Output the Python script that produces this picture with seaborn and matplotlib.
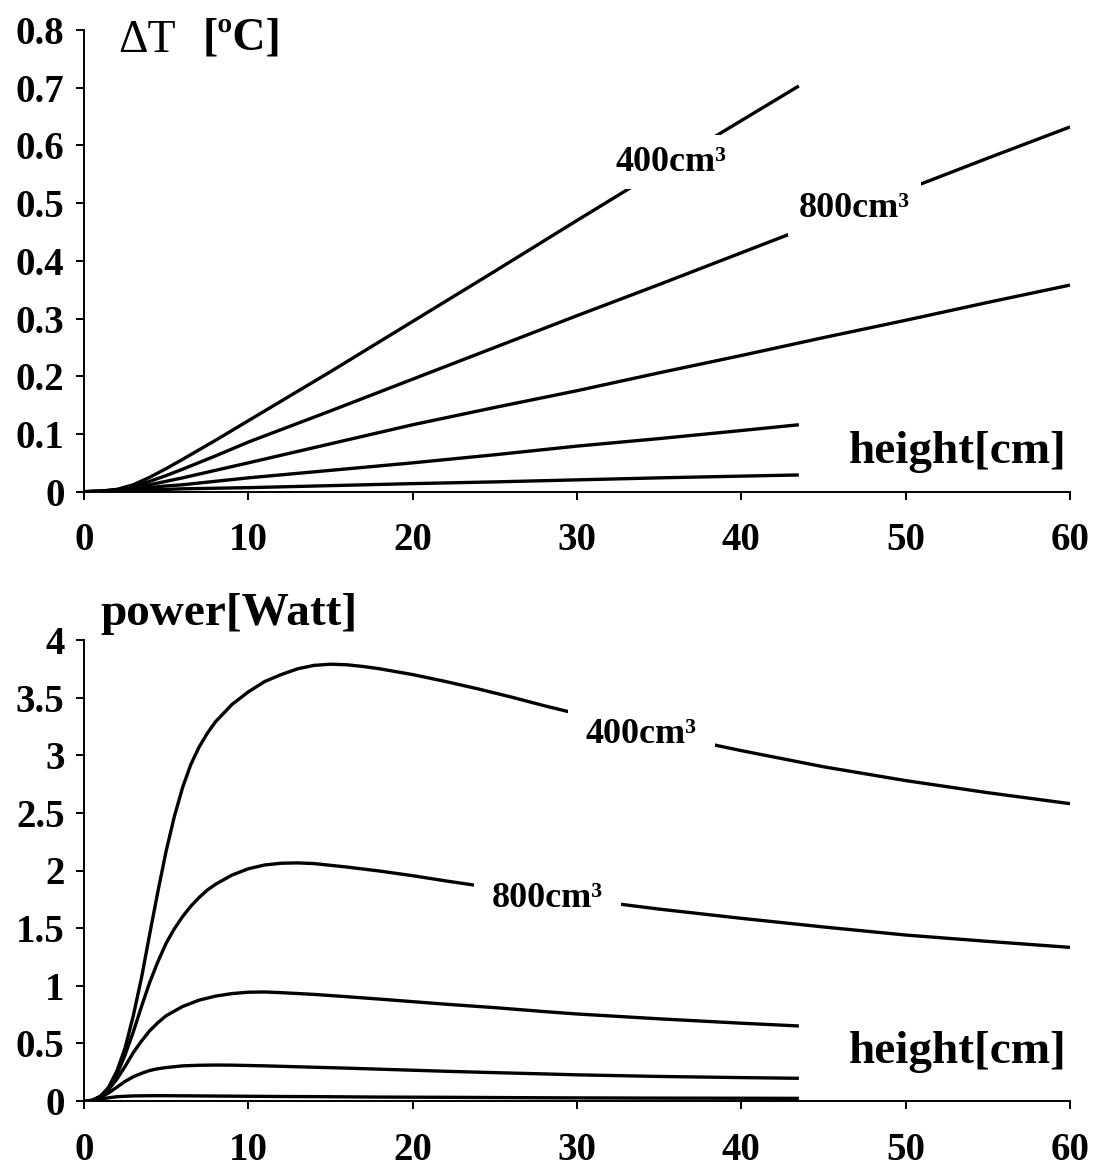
import matplotlib
matplotlib.use("Agg")
import matplotlib.pyplot as plt
import seaborn as sns

# ---- data ----
# top panel: temperature rise vs height (five volumes)
dt_x_short = [0, 1, 2, 3, 4, 5, 6, 8, 10, 15, 20, 25, 30, 35, 40, 43.5]
dt_x_long = [0, 1, 2, 3, 4, 5, 6, 8, 10, 15, 20, 25, 30, 35, 40, 45, 50, 55, 60]
dt_400 = [0, 0.001, 0.004, 0.012, 0.025, 0.040, 0.056, 0.089, 0.123, 0.208,
          0.295, 0.382, 0.470, 0.557, 0.643, 0.703]
dt_800 = [0, 0.001, 0.003, 0.009, 0.018, 0.028, 0.039, 0.062, 0.086, 0.140,
          0.195, 0.250, 0.305, 0.359, 0.414, 0.469, 0.523, 0.578, 0.632]
dt_c = [0, 0.001, 0.003, 0.007, 0.012, 0.018, 0.024, 0.037, 0.050, 0.083,
        0.116, 0.146, 0.175, 0.206, 0.236, 0.267, 0.297, 0.328, 0.358]
dt_d = [0, 0.0005, 0.002, 0.004, 0.007, 0.010, 0.012, 0.018, 0.024, 0.037,
        0.050, 0.064, 0.079, 0.092, 0.106, 0.116]
dt_e = [0, 0.0002, 0.001, 0.002, 0.003, 0.004, 0.005, 0.006, 0.007, 0.0105,
        0.014, 0.017, 0.0205, 0.024, 0.027, 0.029]

# bottom panel: power vs height
p_x_400 = [0, 0.5, 1, 1.5, 2, 2.5, 3, 3.5, 4, 4.5, 5, 5.5, 6, 6.5, 7, 7.5, 8,
           9, 10, 11, 12, 13, 14, 15, 16, 17, 18, 20, 22, 24, 26, 28, 30, 32,
           35, 40, 45, 50, 55, 60]
p_400 = [0, 0.005, 0.04, 0.12, 0.26, 0.46, 0.74, 1.07, 1.45, 1.82, 2.17, 2.47,
         2.72, 2.92, 3.07, 3.19, 3.29, 3.44, 3.55, 3.64, 3.70, 3.75, 3.78, 3.79,
         3.785, 3.77, 3.75, 3.70, 3.64, 3.575, 3.505, 3.43, 3.36, 3.29, 3.19,
         3.04, 2.90, 2.78, 2.675, 2.58]
p_x_800 = [0, 0.5, 1, 1.5, 2, 2.5, 3, 3.5, 4, 4.5, 5, 5.5, 6, 6.5, 7, 7.5, 8,
           9, 10, 11, 12, 13, 14, 16, 18, 20, 22, 24, 26, 28, 30, 35, 40, 45,
           50, 55, 60]
p_800 = [0, 0.005, 0.04, 0.11, 0.23, 0.40, 0.60, 0.82, 1.03, 1.21, 1.37, 1.495,
         1.60, 1.69, 1.765, 1.83, 1.88, 1.96, 2.015, 2.048, 2.063, 2.066, 2.06,
         2.03, 1.995, 1.955, 1.91, 1.868, 1.83, 1.79, 1.755, 1.665, 1.585, 1.51,
         1.44, 1.385, 1.333]
p_x_short = [0, 0.5, 1, 1.5, 2, 2.5, 3, 3.5, 4, 4.5, 5, 6, 7, 8, 9, 10, 11, 12,
             14, 16, 18, 20, 22, 25, 28, 30, 35, 40, 43.5]
p_c = [0, 0.005, 0.04, 0.10, 0.19, 0.30, 0.42, 0.52, 0.61, 0.68, 0.74, 0.82,
       0.875, 0.91, 0.932, 0.944, 0.946, 0.94, 0.925, 0.905, 0.884, 0.862, 0.84,
       0.81, 0.776, 0.755, 0.713, 0.675, 0.651]
p_d = [0, 0.004, 0.03, 0.07, 0.12, 0.17, 0.21, 0.24, 0.265, 0.28, 0.29, 0.305,
       0.31, 0.312, 0.311, 0.308, 0.305, 0.301, 0.293, 0.285, 0.276, 0.267,
       0.258, 0.246, 0.235, 0.227, 0.213, 0.203, 0.197]
p_e = [0, 0.004, 0.015, 0.028, 0.037, 0.041, 0.044, 0.045, 0.046, 0.046, 0.046,
       0.045, 0.044, 0.043, 0.042, 0.041, 0.040, 0.039, 0.038, 0.036, 0.034,
       0.033, 0.032, 0.030, 0.028, 0.027, 0.025, 0.024, 0.023]

x_ticks = [0, 10, 20, 30, 40, 50, 60]
dt_ticks = [0, 0.1, 0.2, 0.3, 0.4, 0.5, 0.6, 0.7, 0.8]
p_ticks = [0, 0.5, 1, 1.5, 2, 2.5, 3, 3.5, 4]

sns.set_style("ticks")
plt.rcParams["font.family"] = ["Liberation Serif", "DejaVu Serif"]
plt.rcParams["font.weight"] = "bold"
plt.rcParams["text.color"] = "black"
plt.rcParams["xtick.color"] = "black"
plt.rcParams["ytick.color"] = "black"

W, H = 1097, 1169
fig = plt.figure(figsize=(W / 100, H / 100), dpi=100)


def px_axes(left, top, right, bottom):
    return fig.add_axes([left / W, 1 - bottom / H, (right - left) / W, (bottom - top) / H])


def style_axes(ax, yticks, ylim, ylabels):
    ax.set_xlim(0, 60)
    ax.set_ylim(*ylim)
    ax.set_xticks(x_ticks)
    ax.set_xticklabels([str(t) for t in x_ticks])
    ax.set_yticks(yticks)
    ax.set_yticklabels(ylabels)
    sns.despine(ax=ax)
    for s in ["left", "bottom"]:
        ax.spines[s].set_linewidth(1.4)
        ax.spines[s].set_color("black")
    ax.tick_params(axis="both", direction="out", length=6, width=1.4,
                   color="black", labelsize=28, labelcolor="black")
    ax.tick_params(axis="x", pad=16)
    ax.tick_params(axis="y", pad=8)
    for lab in ax.get_xticklabels() + ax.get_yticklabels():
        lab.set_fontweight("bold")
    ax.set_xlabel("")
    ax.set_ylabel("")
    ax.patch.set_alpha(0)


def curve(ax, xs, ys):
    sns.lineplot(x=xs, y=ys, ax=ax, color="black", linewidth=2.4, sort=True,
                 zorder=2, solid_joinstyle="round", solid_capstyle="butt")


def label_box(pad):
    return dict(boxstyle=f"square,pad={pad}", facecolor="white", edgecolor="none")


# ---- top panel ----
ax1 = px_axes(84, 30, 1070, 491.7)
curve(ax1, dt_x_short, dt_400)
curve(ax1, dt_x_long, dt_800)
curve(ax1, dt_x_long, dt_c)
curve(ax1, dt_x_short, dt_d)
curve(ax1, dt_x_short, dt_e)
style_axes(ax1, dt_ticks, (0, 0.8),
           ["0"] + [f"{t:.1f}" for t in dt_ticks[1:]])
ax1.text(35.7, 0.571, "400cm³", fontsize=26, fontweight="bold",
         ha="center", va="center", bbox=label_box(0.3), zorder=3)
ax1.text(46.9, 0.491, "800cm³", fontsize=26, fontweight="bold",
         ha="center", va="center", bbox=label_box(0.3), zorder=3)

# ---- bottom panel ----
ax2 = px_axes(84, 640, 1070, 1101)
curve(ax2, p_x_400, p_400)
curve(ax2, p_x_800, p_800)
curve(ax2, p_x_short, p_c)
curve(ax2, p_x_short, p_d)
curve(ax2, p_x_short, p_e)
style_axes(ax2, p_ticks, (0, 4), [f"{t:g}" for t in p_ticks])
ax2.text(33.9, 3.18, "400cm³", fontsize=26, fontweight="bold",
         ha="center", va="center", bbox=label_box(0.5), zorder=3)
ax2.text(28.2, 1.76, "800cm³", fontsize=26, fontweight="bold",
         ha="center", va="center", bbox=label_box(0.5), zorder=3)

# ---- axis titles placed like the original ----
fig.text(118 / W, 1 - 52 / H, "ΔT", fontsize=33, fontweight="normal",
         ha="left", va="baseline")
fig.text(203 / W, 1 - 50 / H, "[ºC]", fontsize=33, fontweight="bold",
         ha="left", va="baseline")
fig.text(100 / W, 1 - 625 / H, "power[Watt]", fontsize=34, fontweight="bold",
         ha="left", va="baseline")
fig.text(1067 / W, 1 - 463 / H, "height[cm]", fontsize=34, fontweight="bold",
         ha="right", va="baseline")
fig.text(1067 / W, 1 - 1063 / H, "height[cm]", fontsize=34, fontweight="bold",
         ha="right", va="baseline")

fig.savefig("out.png", dpi=100, facecolor="white")
